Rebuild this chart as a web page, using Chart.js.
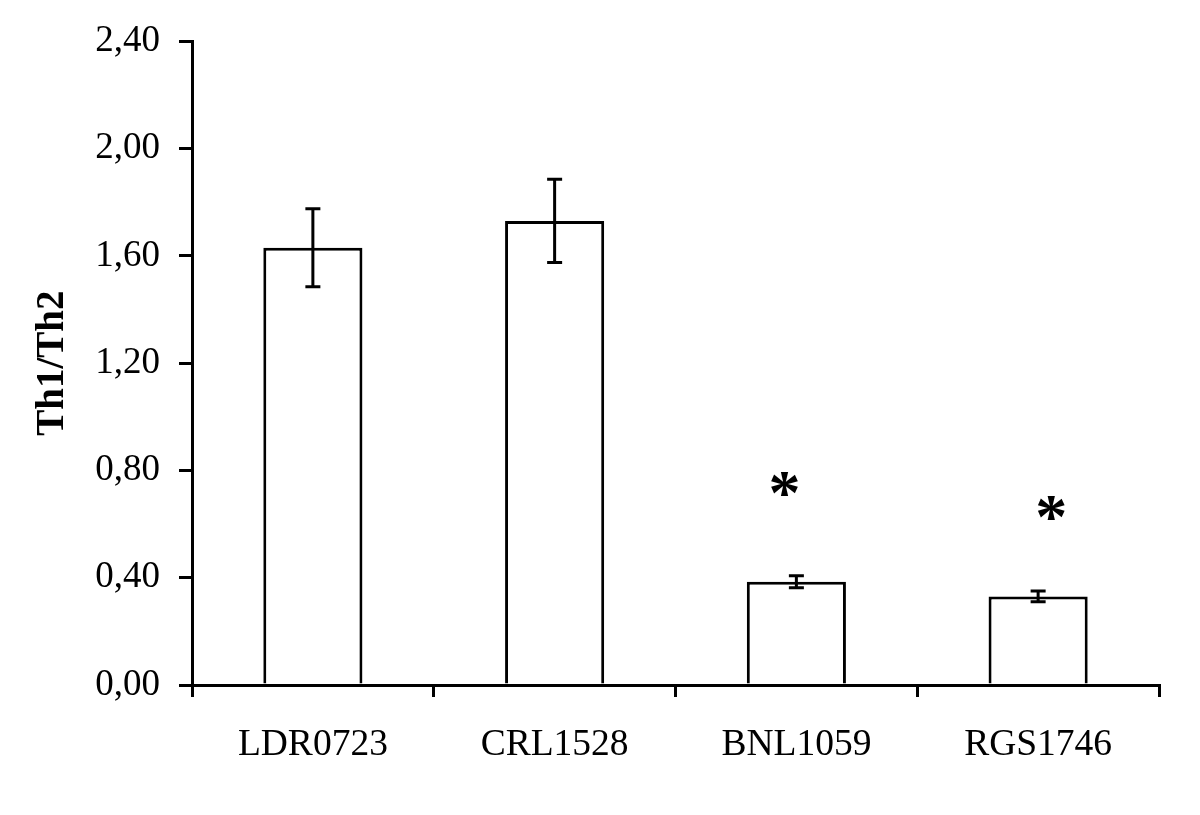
<!DOCTYPE html>
<html>
<head>
<meta charset="utf-8">
<script src="https://cdn.jsdelivr.net/npm/chart.js@4.4.1/dist/chart.umd.min.js"></script>
<style>
  html, body { margin: 0; padding: 0; background: #ffffff; }
  #wrap { width: 1200px; height: 815px; position: relative; }
</style>
</head>
<body>
<div id="wrap"><canvas id="c"></canvas></div>
<script>
// ---- data ----
const categories = ['LDR0723', 'CRL1528', 'BNL1059', 'RGS1746'];
const ratioValues = [1.63, 1.73, 0.385, 0.33];
const ratioErrors = [0.145, 0.155, 0.022, 0.02];
const significance = ['', '', '*', '*'];
const markerValues = [null, null, 0.75, 0.66];
const yTickMin = 0;
const yTickMax = 2.4;
const yTickStep = 0.4;
const yAxisTitle = 'Th1/Th2';

const FONT = "'Liberation Serif', 'Times New Roman', serif";

const errorBarPlugin = {
  id: 'errorBars',
  afterDatasetsDraw(chart) {
    const ctx = chart.ctx;
    const meta = chart.getDatasetMeta(0);
    const y = chart.scales.y;
    ctx.save();
    ctx.strokeStyle = '#000';
    ctx.lineWidth = 3;
    ctx.lineCap = 'butt';
    meta.data.forEach((bar, i) => {
      const v = ratioValues[i], e = ratioErrors[i];
      const yt = y.getPixelForValue(v + e);
      const yb = y.getPixelForValue(v - e);
      const x = bar.x;
      const cw = 7.5;
      ctx.beginPath();
      ctx.moveTo(x, yt); ctx.lineTo(x, yb);
      ctx.moveTo(x - cw, yt); ctx.lineTo(x + cw, yt);
      ctx.moveTo(x - cw, yb); ctx.lineTo(x + cw, yb);
      ctx.stroke();
    });
    // significance markers
    const xOffsets = [0, 0, -12, 13];
    ctx.fillStyle = '#000';
    ctx.font = 'bold 64px ' + FONT;
    ctx.textAlign = 'center';
    ctx.textBaseline = 'alphabetic';
    meta.data.forEach((bar, i) => {
      if (!significance[i] || markerValues[i] == null) return;
      const m = ctx.measureText(significance[i]);
      const cy = y.getPixelForValue(markerValues[i]);
      const asc = m.actualBoundingBoxAscent, desc = m.actualBoundingBoxDescent;
      const baseline = cy + (asc - desc) / 2;
      ctx.fillText(significance[i], bar.x + xOffsets[i], baseline);
    });
    ctx.restore();
  }
};

new Chart(document.getElementById('c'), {
  type: 'bar',
  data: {
    labels: categories,
    datasets: [{
      data: ratioValues,
      backgroundColor: '#ffffff',
      borderColor: '#000000',
      borderWidth: 3,
      barPercentage: 0.41,
      categoryPercentage: 1.0
    }]
  },
  options: {
    responsive: true,
    maintainAspectRatio: false,
    animation: false,
    devicePixelRatio: 1,
    layout: { padding: { top: 40, right: 41, bottom: 0, left: 0 } },
    plugins: {
      legend: { display: false },
      tooltip: { enabled: false },
      title: { display: false }
    },
    scales: {
      x: {
        afterFit(scale) { scale.height = 130; },
        grid: {
          offset: true,
          drawOnChartArea: false,
          drawTicks: true,
          tickLength: 12,
          color: '#000',
          lineWidth: 3
        },
        border: { display: true, color: '#000', width: 3 },
        ticks: {
          color: '#000',
          padding: 26,
          font: { family: FONT, size: 37.5 },
          maxRotation: 0
        }
      },
      y: {
        min: yTickMin,
        max: yTickMax,
        afterFit(scale) { scale.width = 192; },
        grid: {
          drawOnChartArea: false,
          drawTicks: true,
          tickLength: 13,
          color: '#000',
          lineWidth: 3
        },
        border: { display: true, color: '#000', width: 3 },
        ticks: {
          stepSize: yTickStep,
          color: '#000',
          padding: 19,
          font: { family: FONT, size: 37 },
          callback: (v) => Number(v).toFixed(2).replace('.', ',')
        },
        title: {
          display: true,
          text: yAxisTitle,
          color: '#000',
          font: { family: FONT, size: 39, weight: 'bold' },
          padding: { top: 30, bottom: 0 }
        }
      }
    }
  },
  plugins: [errorBarPlugin]
});
</script>
</body>
</html>
